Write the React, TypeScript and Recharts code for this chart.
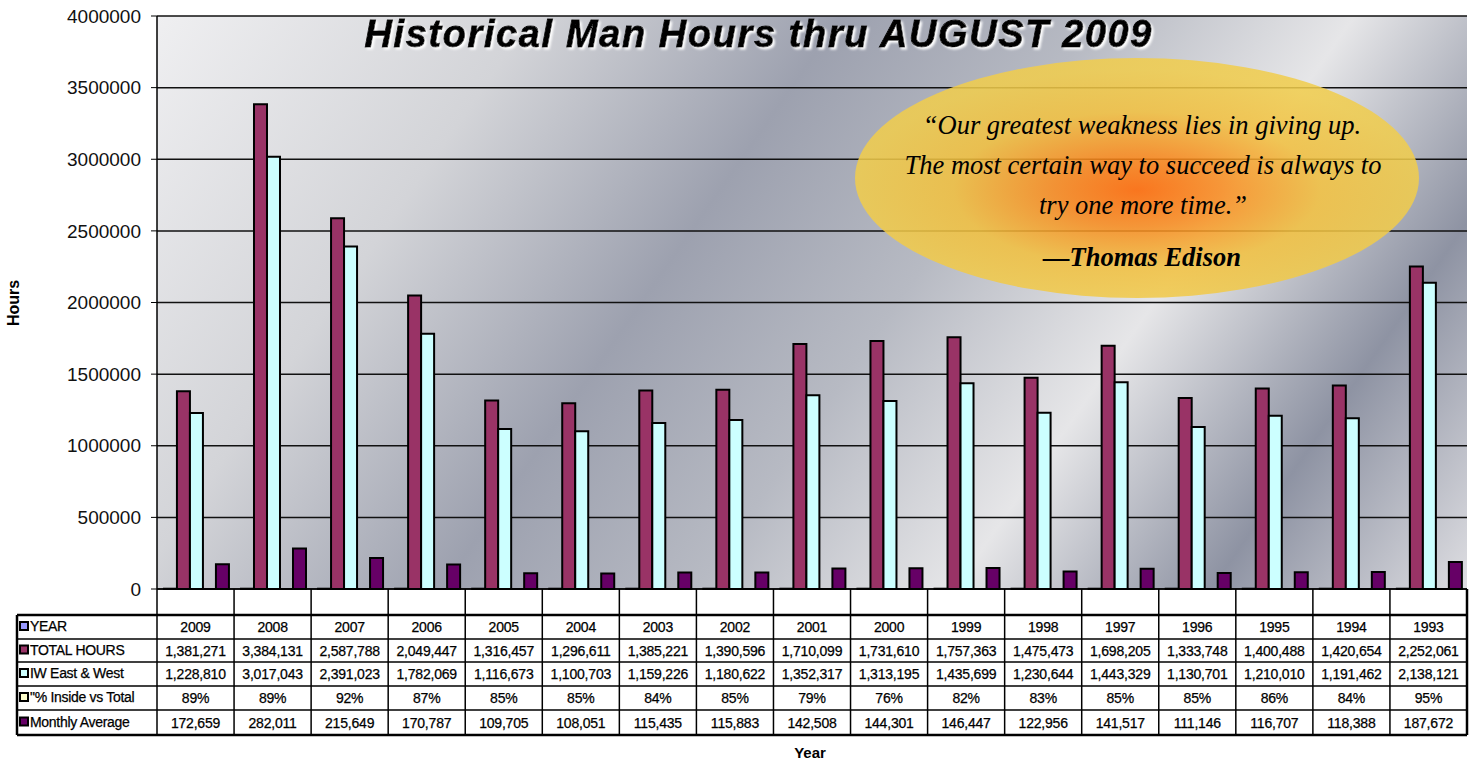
import { BarChart, Bar, XAxis, YAxis, CartesianGrid } from 'recharts'

const years = ['2009', '2008', '2007', '2006', '2005', '2004', '2003', '2002', '2001', '2000', '1999', '1998', '1997', '1996', '1995', '1994', '1993']
const totalHours = [1381271, 3384131, 2587788, 2049447, 1316457, 1296611, 1385221, 1390596, 1710099, 1731610, 1757363, 1475473, 1698205, 1333748, 1400488, 1420654, 2252061]
const iwEastWest = [1228810, 3017043, 2391023, 1782069, 1116673, 1100703, 1159226, 1180622, 1352317, 1313195, 1435699, 1230644, 1443329, 1130701, 1210010, 1191462, 2138121]
const pctInside = [89, 89, 92, 87, 85, 85, 84, 85, 79, 76, 82, 83, 85, 85, 86, 84, 95]
const monthlyAvg = [172659, 282011, 215649, 170787, 109705, 108051, 115435, 115883, 142508, 144301, 146447, 122956, 141517, 111146, 116707, 118388, 187672]

const yTicks = [0, 500000, 1000000, 1500000, 2000000, 2500000, 3000000, 3500000, 4000000]
const rowLabels = ['YEAR', 'TOTAL HOURS', 'IW East & West', '"% Inside vs Total', 'Monthly Average']
const rowColors = ['#9999ff', '#993366', '#ccffff', '#ffffcc', '#660066']

const data = years.map((y, i) => ({
  year: y,
  yearValue: Number(y),
  total: totalHours[i],
  iw: iwEastWest[i],
  pct: pctInside[i],
  monthly: monthlyAvg[i],
}))

const W = 1477
const H = 761
const Y_W = 157
const RIGHT = 10
const X_H = 172
const PLOT_BOTTOM = H - X_H
const BAND = (W - Y_W - RIGHT) / years.length
const TABLE_LEFT = 17
const TABLE_RIGHT = W - RIGHT
const ROWS = [615, 639, 662, 686, 710, 735]
const SANS = '"Liberation Sans", Arial, sans-serif'
const SERIF = '"Liberation Serif", "Times New Roman", serif'

const fmt = (v: number) => v.toLocaleString('en-US')

function LabelColumn() {
  return (
    <g>
      {ROWS.map((ry, r) => (
        <line key={r} x1={TABLE_LEFT} x2={TABLE_RIGHT} y1={ry} y2={ry} stroke="#000" strokeWidth={r === 0 || r === 5 ? 2.5 : 1.5} />
      ))}
      <line x1={TABLE_LEFT} x2={TABLE_LEFT} y1={ROWS[0]} y2={ROWS[5]} stroke="#000" strokeWidth={2.5} />
      {rowLabels.map((lab, r) => {
        const cy = (ROWS[r] + ROWS[r + 1]) / 2
        return (
          <g key={lab}>
            <rect x={20} y={cy - 5} width={8} height={8} fill={rowColors[r]} stroke="#000" strokeWidth={2} />
            <text x={30} y={cy + 4} fontSize={14} fontFamily={SANS} fill="#000" stroke="#000" strokeWidth={0.25} letterSpacing={-0.3}>{lab}</text>
          </g>
        )
      })}
    </g>
  )
}

function TableTick(props: any) {
  const { x, payload } = props
  const i = years.indexOf(String(payload.value))
  const left = x - BAND / 2
  const right = x + BAND / 2
  const cells = [years[i], fmt(totalHours[i]), fmt(iwEastWest[i]), pctInside[i] + '%', fmt(monthlyAvg[i])]
  return (
    <g>
      {i === 0 && <LabelColumn />}
      <line x1={left} x2={left} y1={PLOT_BOTTOM} y2={ROWS[5]} stroke="#000" strokeWidth={1.5} />
      {i === years.length - 1 && <line x1={right} x2={right} y1={PLOT_BOTTOM} y2={ROWS[5]} stroke="#000" strokeWidth={2.5} />}
      {cells.map((c, r) => (
        <text key={r} x={x} y={(ROWS[r] + ROWS[r + 1]) / 2 + 5} textAnchor="middle" fontSize={14} fontFamily={SANS} fill="#000" stroke="#000" strokeWidth={0.25} letterSpacing={-0.2}>
          {c}
        </text>
      ))}
    </g>
  )
}

export default function App() {
  return (
    <div style={{ position: 'absolute', left: 0, top: 0, width: W, height: H, background: '#fff', overflow: 'hidden' }}>
      <BarChart width={W} height={H} data={data} margin={{ top: 16, right: RIGHT, left: 0, bottom: 0 }} barCategoryGap="9%" barGap={0}>
        <defs>
          <linearGradient id="plotBg" gradientUnits="userSpaceOnUse" x1={157} y1={16} x2={1307} y2={819}>
            <stop offset="0" stopColor="#efeff1" />
            <stop offset="0.22" stopColor="#d3d4d8" />
            <stop offset="0.4" stopColor="#9da1af" />
            <stop offset="0.55" stopColor="#b7bac3" />
            <stop offset="0.7" stopColor="#e6e6e8" />
            <stop offset="0.85" stopColor="#8e93a3" />
            <stop offset="1" stopColor="#dedee2" />
          </linearGradient>
        </defs>
        <CartesianGrid vertical={false} fill="url(#plotBg)" stroke="#111" strokeWidth={1.5} />
        <XAxis dataKey="year" height={X_H} interval={0} tickLine={false} axisLine={{ stroke: '#000', strokeWidth: 1.5 }} tick={<TableTick />} />
        <YAxis
          width={Y_W}
          domain={[0, 4000000]}
          ticks={yTicks}
          interval={0}
          tickFormatter={v => String(v)}
          tick={{ fill: '#111', fontSize: 19, fontFamily: SANS }}
          tickSize={6}
          tickMargin={10}
          tickLine={{ stroke: '#000' }}
          axisLine={{ stroke: '#000', strokeWidth: 1.5 }}
        />
        <Bar dataKey="yearValue" fill={rowColors[0]} stroke="#000" strokeWidth={2} isAnimationActive={false} />
        <Bar dataKey="total" fill={rowColors[1]} stroke="#000" strokeWidth={2} isAnimationActive={false} />
        <Bar dataKey="iw" fill={rowColors[2]} stroke="#000" strokeWidth={2} isAnimationActive={false} />
        <Bar dataKey="pct" fill={rowColors[3]} stroke="#000" strokeWidth={2} isAnimationActive={false} />
        <Bar dataKey="monthly" fill={rowColors[4]} stroke="#000" strokeWidth={2} isAnimationActive={false} />
      </BarChart>
      <svg width={W} height={H} style={{ position: 'absolute', left: 0, top: 0, pointerEvents: 'none' }}>
        <defs>
          <radialGradient id="quoteFill" cx="0.5" cy="0.55" r="0.5">
            <stop offset="0" stopColor="#ff6600" />
            <stop offset="0.3" stopColor="#f98a1c" />
            <stop offset="0.65" stopColor="#f2c03e" />
            <stop offset="1" stopColor="#f1cd4c" />
          </radialGradient>
          <filter id="glow" x="-5%" y="-30%" width="110%" height="160%">
            <feDropShadow dx={2} dy={2} stdDeviation={1.2} floodColor="#ffffff" floodOpacity={1} />
          </filter>
        </defs>
        <text x={758} y={47} textAnchor="middle" fontSize={38} fontWeight={700} fontStyle="italic" fontFamily={SANS} fill="#000" stroke="#000" strokeWidth={0.8} textLength={787} lengthAdjust="spacing" filter="url(#glow)">
          Historical Man Hours thru AUGUST 2009
        </text>
        <ellipse cx={1137} cy={178} rx={282} ry={120} fill="url(#quoteFill)" fillOpacity={0.86} />
        <g fontFamily={SERIF} fontStyle="italic" fill="#000" textAnchor="middle" fontSize={26.5}>
          <text x={1142} y={134}>“Our greatest weakness lies in giving up.</text>
          <text x={1143} y={174}>The most certain way to succeed is always to</text>
          <text x={1143} y={214}>try one more time.”</text>
          <text x={1142} y={266} fontWeight={700}>—Thomas Edison</text>
        </g>
        <text transform="translate(19,303) rotate(-90)" textAnchor="middle" fontSize={16} fontWeight={700} fontFamily={SANS} fill="#000">Hours</text>
        <text x={810} y={758} textAnchor="middle" fontSize={15} fontWeight={700} fontFamily={SANS} fill="#000">Year</text>
      </svg>
    </div>
  )
}
